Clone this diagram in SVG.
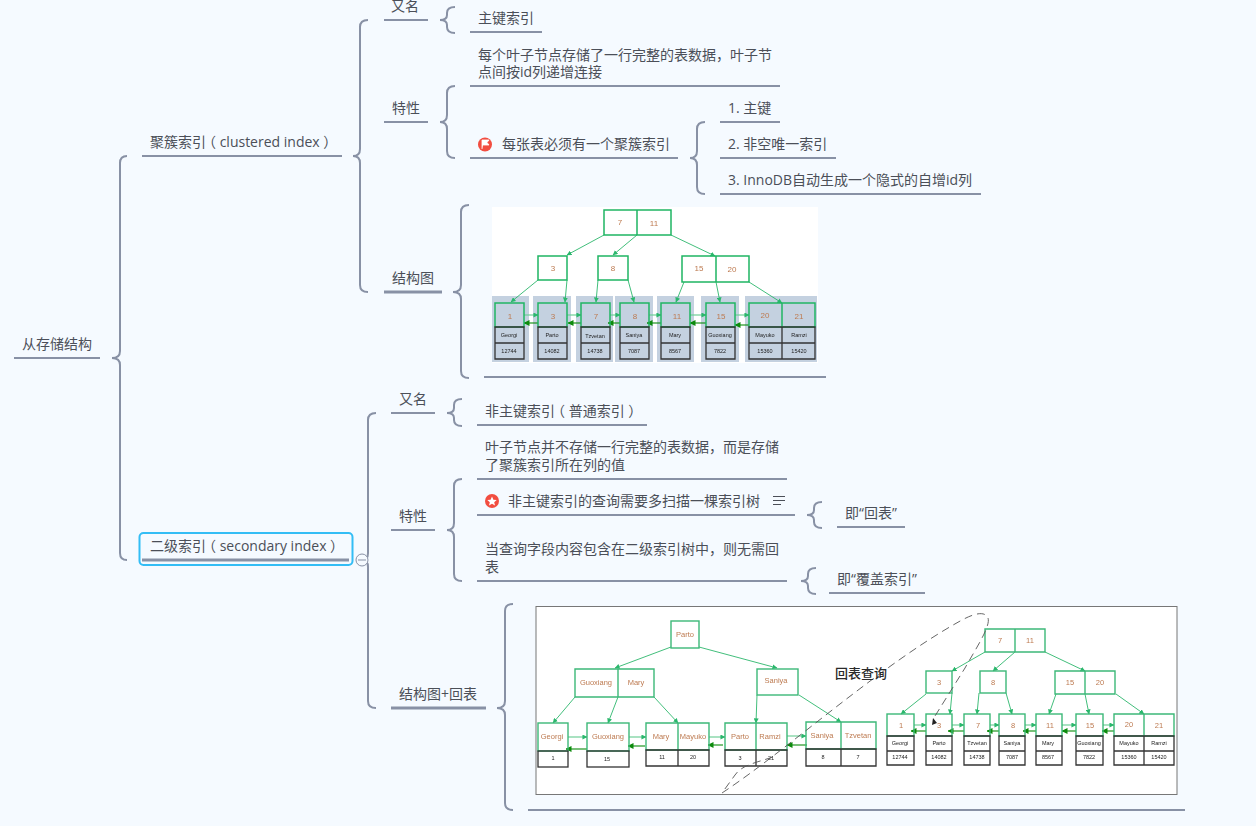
<svg xmlns="http://www.w3.org/2000/svg" width="1256" height="826" viewBox="0 0 1256 826">
<style>
text{font-family:"Open Sans","Noto Sans CJK SC",sans-serif}
.t{font-size:14px;fill:#4b4f58}
.ul{stroke:#8891a5;stroke-width:2;fill:none}
.ult{stroke:#8891a5;stroke-width:3;fill:none}
.br{stroke:#8891a5;stroke-width:2;fill:none}
.gr{fill:none;stroke:#1fb563;stroke-width:1.5}
.gr2{fill:none;stroke:#3cb878;stroke-width:1.4}
.ks{fill:none;stroke:#333;stroke-width:1.3}
.ar{stroke:#2cb76c;stroke-width:.9;fill:none;marker-end:url(#ag)}
.hl{stroke:#6fcf97;stroke-width:1.2;fill:none;marker-end:url(#ag)}
.bk{stroke:#0a8a0a;stroke-width:1.1;fill:none;marker-end:url(#ad)}
.n{font-size:8px;fill:#bd7a50;text-anchor:middle;font-family:"Liberation Sans",sans-serif}
.n2{font-size:7.5px;fill:#bd7a50;text-anchor:middle;font-family:"Liberation Sans",sans-serif}
.l{font-size:5.5px;fill:#222;text-anchor:middle;font-family:"Liberation Sans",sans-serif}
.cb{fill:#c4d1e0}
</style>
<defs>
<marker id="ag" viewBox="0 0 6 6" refX="5.5" refY="3" markerWidth="5" markerHeight="5" markerUnits="userSpaceOnUse" orient="auto"><path d="M0,0L6,3L0,6z" fill="#2cb76c"/></marker>
<marker id="ad" viewBox="0 0 6 6" refX="5.5" refY="3" markerWidth="6" markerHeight="6" markerUnits="userSpaceOnUse" orient="auto"><path d="M0,0L6,3L0,6z" fill="#0a8a0a"/></marker>
<filter id="soft" x="-2%" y="-2%" width="104%" height="104%"><feGaussianBlur stdDeviation=".35"/></filter>
</defs>
<rect width="1256" height="826" fill="#f5faff"/>

<g id="connectors">
<path class="br" d="M127,156Q120,156 120,163L120,351Q120,358 112,358Q120,358 120,365L120,553Q120,560 127,560"/>
<path class="br" d="M368,20Q360,20 360,27L360,149Q360,156 353,156Q360,156 360,163L360,285Q360,292 368,292"/>
<path class="br" d="M455,7Q447,7 447,13L447,15Q447,20 440,20Q447,20 447,25L447,27Q447,33 455,33"/>
<path class="br" d="M455,86Q447,86 447,93L447,115Q447,122 440,122Q447,122 447,129L447,151Q447,158 455,158"/>
<path class="br" d="M705,122Q697,122 697,129L697,151Q697,158 690,158Q697,158 697,165L697,187Q697,194 705,194"/>
<path class="br" d="M469,205Q461,205 461,212L461,285Q461,292 453,292Q461,292 461,299L461,371Q461,378 469,378"/>
<path class="br" d="M376,413Q368,413 368,420L368,553Q368,560 362,560Q368,560 368,567L368,701Q368,708 376,708"/>
<path class="br" d="M462,399Q454,399 454,405L454,408Q454,413 447,413Q454,413 454,418L454,420Q454,426 462,426"/>
<path class="br" d="M462,479Q454,479 454,486L454,523Q454,530 447,530Q454,530 454,537L454,574Q454,581 462,581"/>
<path class="br" d="M822,502Q814,502 814,508L814,510Q814,515 807,515Q814,515 814,520L814,522Q814,528 822,528"/>
<path class="br" d="M816,568Q808,568 808,574L808,576Q808,581 801,581Q808,581 808,586L808,588Q808,594 816,594"/>
<path class="br" d="M513,604Q505,604 505,611L505,701Q505,708 497,708Q505,708 505,715L505,803Q505,810 513,810"/>
</g>

<g id="root"><text class="t" x="22" y="349">从存储结构</text><path class="ul" d="M14,358H100"/></g>
<g id="clustered"><text class="t" x="150" y="147">聚簇索引<tspan dx="-4">（ clustered index ）</tspan></text><path class="ul" d="M142,156H342"/></g>
<g id="secondary"><rect x="139.500" y="533" width="213" height="32" rx="4" fill="none" stroke="#33bdf5" stroke-width="2"/><text class="t" x="150" y="551">二级索引<tspan dx="-4">（ secondary index ）</tspan></text><path class="ult" d="M142,560H349"/></g>
<g id="collapse"><circle cx="362" cy="560" r="6" fill="#f5faff" stroke="#8891a5"/><path d="M358,560H366" stroke="#8891a5"/></g>

<g id="c-alias"><text class="t" x="391" y="11">又名</text><path class="ul" d="M384,20H428"/></g>
<g id="c-alias-1"><text class="t" x="478" y="23">主键索引</text><path class="ul" d="M470,32H542"/></g>
<g id="c-prop"><text class="t" x="392" y="113">特性</text><path class="ul" d="M384,122H428"/></g>
<g id="c-prop-1"><text class="t" x="478" y="60">每个叶子节点存储了一行完整的表数据，叶子节</text><text class="t" x="478" y="77">点间按id列递增连接</text><path class="ul" d="M470,86H780"/></g>
<g id="c-prop-2"><circle cx="485" cy="144.500" r="7" fill="#f24d40"/><path d="M482,149V140H489L487,142.500L489,145H483" fill="#fff" stroke="#fff" stroke-width=".8"/><text class="t" x="502" y="149">每张表必须有一个聚簇索引</text><path class="ul" d="M470,158H678"/></g>
<g id="c-pk-1"><text class="t" x="728" y="113">1. 主键</text><path class="ul" d="M720,122H780"/></g>
<g id="c-pk-2"><text class="t" x="728" y="149">2. 非空唯一索引</text><path class="ul" d="M720,158H836"/></g>
<g id="c-pk-3"><text class="t" x="728" y="185">3. InnoDB自动生成一个隐式的自增id列</text><path class="ul" d="M720,194H981"/></g>
<g id="c-struct"><text class="t" x="392" y="283">结构图</text><path class="ult" d="M384,292H442"/></g>
<path class="ul" d="M484,377H826"/>

<g id="s-alias"><text class="t" x="399" y="404">又名</text><path class="ul" d="M391,413H435"/></g>
<g id="s-alias-1"><text class="t" x="485" y="416">非主键索引<tspan dx="-4">（ 普通索引 ）</tspan></text><path class="ul" d="M477,425H647"/></g>
<g id="s-prop"><text class="t" x="399" y="521">特性</text><path class="ul" d="M391,530H435"/></g>
<g id="s-prop-1"><text class="t" x="485" y="452">叶子节点并不存储一行完整的表数据，而是存储</text><text class="t" x="485" y="470">了聚簇索引所在列的值</text><path class="ul" d="M477,479H787"/></g>
<g id="s-prop-2"><circle cx="492" cy="501" r="7" fill="#f24d40"/><path d="M492,496.500L493.400,499.700L496.700,500L494.200,502.200L495,505.500L492,503.700L489,505.500L489.800,502.200L487.300,500L490.600,499.700z" fill="#fff"/><text class="t" x="508" y="506">非主键索引的查询需要多扫描一棵索引树</text><path d="M773,496.500H785M773,500.500H785M773,504.500H781" stroke="#4b4f58" fill="none"/><path class="ul" d="M477,515H795"/></g>
<g id="s-back"><text class="t" x="845" y="518">即“回表”</text><path class="ul" d="M837,527H905"/></g>
<g id="s-prop-3"><text class="t" x="485" y="554">当查询字段内容包含在二级索引树中，则无需回</text><text class="t" x="485" y="572">表</text><path class="ul" d="M477,581H787"/></g>
<g id="s-cover"><text class="t" x="837" y="584">即“覆盖索引”</text><path class="ul" d="M829,593H925"/></g>
<g id="s-struct"><text class="t" x="399" y="699">结构图+回表</text><path class="ult" d="M391,708H486"/></g>
<path class="ul" d="M528,810H1185"/>

<g id="figure-clustered" filter="url(#soft)">
<rect x="492" y="207" width="326" height="156" fill="#fff"/>
<path class="cb" d="M492,296h37v66h-37zM533,296h38v66h-38zM576,296h37v66h-37zM615,296h38v66h-38zM657,296h37v66h-37zM701,296h38v66h-38zM745,296h72v66h-72z"/>
<g id="f1-arrows">
<path class="ar" d="M604,235L567,255"/><path class="ar" d="M637,235L613,255"/><path class="ar" d="M671,235L715,256"/><path class="ar" d="M538,280L511,302"/><path class="ar" d="M567,280L565,302"/><path class="ar" d="M598,280L596,302"/><path class="ar" d="M628,280L634,302"/><path class="ar" d="M684,282L676,302"/><path class="ar" d="M716,282L720,302"/><path class="ar" d="M749,282L782,303"/>
<path class="hl" d="M524,315H538"/><path class="hl" d="M567,315H581"/><path class="hl" d="M610,315H620"/><path class="hl" d="M649,315H661"/><path class="hl" d="M690,315H706"/><path class="hl" d="M735,315H749"/>
<path class="bk" d="M538,323H524"/><path class="bk" d="M581,323H568"/><path class="bk" d="M620,323H608"/><path class="bk" d="M661,323H647"/><path class="bk" d="M706,323H690"/><path class="bk" d="M749,325H735"/>
</g>
<g id="f1-i1"><path class="gr" d="M604,210H671V235H604zM637,210V235"/><text class="n" x="620" y="225">7</text><text class="n" x="654" y="226">11</text></g>
<g id="f1-i2"><rect class="gr" x="538" y="256" width="29" height="24"/><text class="n" x="553" y="271">3</text></g>
<g id="f1-i3"><rect class="gr" x="598" y="256" width="30" height="24"/><text class="n" x="613" y="271">8</text></g>
<g id="f1-i4"><path class="gr" d="M682,256H749V282H682zM716,256V282"/><text class="n" x="699" y="271">15</text><text class="n" x="732" y="272">20</text></g>
<g id="f1-l1"><rect class="gr" x="495" y="303" width="29" height="24"/><path class="ks" d="M495,327H524V359H495zM495,343H524"/><text class="n" x="510" y="319">1</text><text class="l" x="509" y="337">Georgi</text><text class="l" x="509" y="353">12744</text></g>
<g id="f1-l2"><rect class="gr" x="538" y="303" width="29" height="24"/><path class="ks" d="M538,327H567V359H538zM538,343H567"/><text class="n" x="553" y="319">3</text><text class="l" x="552" y="337">Parto</text><text class="l" x="552" y="353">14082</text></g>
<g id="f1-l3"><rect class="gr" x="581" y="303" width="29" height="24"/><path class="ks" d="M581,327H610V359H581zM581,343H610"/><text class="n" x="596" y="319">7</text><text class="l" x="595" y="338">Tzvetan</text><text class="l" x="595" y="353">14738</text></g>
<g id="f1-l4"><rect class="gr" x="620" y="303" width="29" height="24"/><path class="ks" d="M620,327H649V359H620zM620,343H649"/><text class="n" x="635" y="319">8</text><text class="l" x="634" y="337">Saniya</text><text class="l" x="634" y="353">7087</text></g>
<g id="f1-l5"><rect class="gr" x="661" y="303" width="29" height="24"/><path class="ks" d="M661,327H690V359H661zM661,343H690"/><text class="n" x="677" y="319">11</text><text class="l" x="675" y="337">Mary</text><text class="l" x="675" y="353">8567</text></g>
<g id="f1-l6"><rect class="gr" x="706" y="303" width="29" height="24"/><path class="ks" d="M706,327H735V359H706zM706,343H735"/><text class="n" x="721" y="319">15</text><text class="l" x="720" y="337">Guoxiang</text><text class="l" x="720" y="353">7822</text></g>
<g id="f1-l7"><path class="gr" d="M749,303H815V327H749zM782,303V327"/><path class="ks" d="M749,327H815V359H749zM749,343H815M782,327V359"/><text class="n" x="765" y="318">20</text><text class="n" x="799" y="319">21</text><text class="l" x="765" y="337">Mayuko</text><text class="l" x="799" y="337">Ramzi</text><text class="l" x="765" y="353">15360</text><text class="l" x="799" y="353">15420</text></g>
</g>

<g id="figure-secondary" filter="url(#soft)">
<rect x="536" y="606.500" width="641" height="188" fill="#fff" stroke="#777"/>
<g id="f2-arrows">
<path class="ar" d="M671,647L615,668"/><path class="ar" d="M699,647L777,668"/><path class="ar" d="M575,697L553,723"/><path class="ar" d="M618,697L608,723"/><path class="ar" d="M654,697L678,723"/><path class="ar" d="M757,695L756,723"/><path class="ar" d="M799,695L841,722"/><path class="ar" d="M985,652L952,671"/><path class="ar" d="M1015,652L993,671"/><path class="ar" d="M1045,652L1085,671"/><path class="ar" d="M926,694L901,714"/><path class="ar" d="M952,693L950,714"/><path class="ar" d="M979,693L977,714"/><path class="ar" d="M1006,693L1012,714"/><path class="ar" d="M1056,694L1049,714"/><path class="ar" d="M1085,694L1089,714"/><path class="ar" d="M1116,694L1144,714"/>
<path class="hl" d="M568,737H587"/><path class="hl" d="M629,737H646"/><path class="hl" d="M709,737H725"/><path class="hl" d="M787,736H806"/><path class="hl" d="M914,725H926"/><path class="hl" d="M952,725H964"/><path class="hl" d="M990,725H999"/><path class="hl" d="M1025,725H1036"/><path class="hl" d="M1062,725H1076"/><path class="hl" d="M1103,725H1114"/>
<path class="bk" d="M587,749H566"/><path class="bk" d="M645,746H628"/><path class="bk" d="M723,745H708"/><path class="bk" d="M807,745H787"/><path class="bk" d="M926,731H911"/><path class="bk" d="M964,731H948"/><path class="bk" d="M999,731H987"/><path class="bk" d="M1036,731H1023"/><path class="bk" d="M1076,731H1062"/><path class="bk" d="M1114,731H1102"/>
</g>
<g id="f2-root"><rect class="gr2" x="671" y="621" width="28" height="27"/><text class="n2" x="685" y="637">Parto</text></g>
<g id="f2-i1"><path class="gr2" d="M575,669H654V697H575zM618,669V697"/><text class="n2" x="596" y="685">Guoxiang</text><text class="n2" x="636" y="685">Mary</text></g>
<g id="f2-i2"><rect class="gr2" x="757" y="669" width="41" height="26"/><text class="n2" x="776" y="683">Saniya</text></g>
<g id="f2-l1"><rect class="gr2" x="538" y="723" width="30" height="28"/><rect class="ks" x="538" y="751" width="30" height="16"/><text class="n2" x="552" y="739">Georgi</text><text class="l" x="553" y="760">1</text></g>
<g id="f2-l2"><rect class="gr2" x="587" y="723" width="42" height="28"/><rect class="ks" x="587" y="751" width="42" height="16"/><text class="n2" x="608" y="739">Guoxiang</text><text class="l" x="607" y="761">15</text></g>
<g id="f2-l3"><path class="gr2" d="M646,723H709V750H646zM678,723V750"/><path class="ks" d="M646,750H709V766H646zM678,750V766"/><text class="n2" x="661" y="739">Mary</text><text class="n2" x="693" y="739">Mayuko</text><text class="l" x="662" y="759">11</text><text class="l" x="693" y="759">20</text></g>
<g id="f2-l4"><path class="gr2" d="M725,723H787V750H725zM756,723V750"/><path class="ks" d="M725,750H787V766H725zM756,750V766"/><text class="n2" x="740" y="739">Parto</text><text class="n2" x="770" y="739">Ramzi</text><text class="l" x="740" y="760">3</text><text class="l" x="771" y="760">21</text></g>
<g id="f2-l5"><path class="gr2" d="M806,722H876V749H806zM841,722V749"/><path class="ks" d="M806,749H876V766H806zM841,749V766"/><text class="n2" x="822" y="738">Saniya</text><text class="n2" x="858" y="738">Tzvetan</text><text class="l" x="823" y="759">8</text><text class="l" x="858" y="759">7</text></g>
<g id="f3-i1"><path class="gr2" d="M985,629H1045V652H985zM1015,629V652"/><text class="n2" x="1000" y="643">7</text><text class="n2" x="1030" y="643">11</text></g>
<g id="f3-i2"><rect class="gr2" x="926" y="671" width="26" height="22"/><text class="n2" x="939" y="685">3</text></g>
<g id="f3-i3"><rect class="gr2" x="980" y="671" width="26" height="22"/><text class="n2" x="993" y="685">8</text></g>
<g id="f3-i4"><path class="gr2" d="M1055,671H1115V694H1055zM1085,671V694"/><text class="n2" x="1070" y="685">15</text><text class="n2" x="1100" y="685">20</text></g>
<g id="f3-l1"><rect class="gr2" x="887" y="714" width="27" height="22"/><path class="ks" d="M887,736H914V765H887zM887,751H914"/><text class="n2" x="901" y="728">1</text><text class="l" x="900" y="745">Georgi</text><text class="l" x="900" y="759">12744</text></g>
<g id="f3-l2"><rect class="gr2" x="926" y="714" width="26" height="22"/><path class="ks" d="M926,736H952V765H926zM926,751H952"/><text class="n2" x="939" y="728">3</text><text class="l" x="939" y="745">Parto</text><text class="l" x="939" y="759">14082</text></g>
<g id="f3-l3"><rect class="gr2" x="964" y="714" width="26" height="22"/><path class="ks" d="M964,736H990V765H964zM964,751H990"/><text class="n2" x="978" y="728">7</text><text class="l" x="977" y="745">Tzvetan</text><text class="l" x="977" y="759">14738</text></g>
<g id="f3-l4"><rect class="gr2" x="999" y="714" width="26" height="22"/><path class="ks" d="M999,736H1025V765H999zM999,751H1025"/><text class="n2" x="1013" y="728">8</text><text class="l" x="1012" y="745">Saniya</text><text class="l" x="1012" y="759">7087</text></g>
<g id="f3-l5"><rect class="gr2" x="1036" y="714" width="26" height="22"/><path class="ks" d="M1036,736H1062V765H1036zM1036,751H1062"/><text class="n2" x="1050" y="728">11</text><text class="l" x="1048" y="745">Mary</text><text class="l" x="1048" y="759">8567</text></g>
<g id="f3-l6"><rect class="gr2" x="1076" y="714" width="27" height="22"/><path class="ks" d="M1076,736H1103V765H1076zM1076,751H1103"/><text class="n2" x="1090" y="728">15</text><text class="l" x="1089" y="745">Guoxiang</text><text class="l" x="1089" y="759">7822</text></g>
<g id="f3-l7"><path class="gr2" d="M1114,714H1174V736H1114zM1144,714V736"/><path class="ks" d="M1114,736H1174V765H1114zM1114,751H1174M1144,736V765"/><text class="n2" x="1129" y="727">20</text><text class="n2" x="1159" y="728">21</text><text class="l" x="1129" y="745">Mayuko</text><text class="l" x="1159" y="745">Ramzi</text><text class="l" x="1129" y="759">15360</text><text class="l" x="1159" y="759">15420</text></g>
<path id="f2-loop" d="M773,757C755,763 742,765 735,775L722,793C790,748 880,665 962,620C975,613 985,611 988,618C991,626 975,650 965,668L935,716" fill="none" stroke="#555" stroke-width=".9" stroke-dasharray="8 5"/>
<path d="M933,718L937,723L932,725z" fill="#222"/>
</g>
<text x="835" y="678" font-size="13px" font-weight="500" fill="#2a2a2a">回表查询</text>
</svg>
